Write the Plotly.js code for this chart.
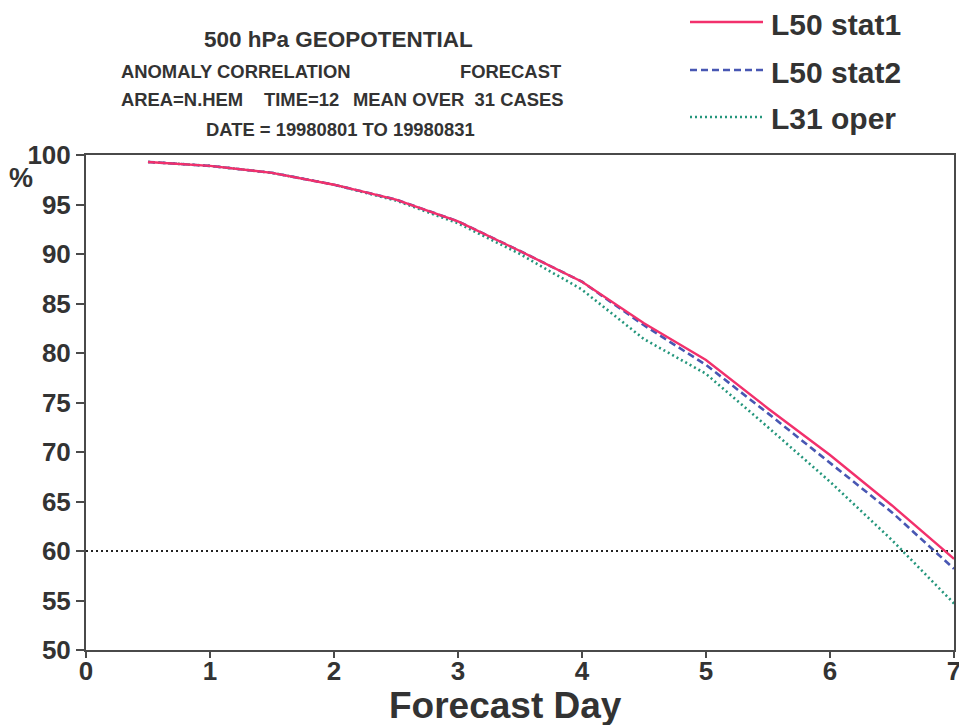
<!DOCTYPE html>
<html><head><meta charset="utf-8">
<script src="https://cdn.plot.ly/plotly-3.0.1.min.js"></script>
<style>html,body{margin:0;padding:0;background:#fff}</style>
</head><body><div id="chart" style="width:959px;height:725px"></div>
<script>
// ---- data ----
const forecastDays = [0.5, 1, 1.5, 2, 2.5, 3, 3.5, 4, 4.5, 5, 5.5, 6, 6.5, 7];
const l50Stat1 = [99.3, 98.9, 98.2, 97.0, 95.5, 93.3, 90.3, 87.2, 83.0, 79.3, 74.4, 69.7, 64.6, 59.2];
const l50Stat2 = [99.3, 98.9, 98.2, 97.0, 95.5, 93.3, 90.3, 87.2, 82.8, 78.8, 73.9, 68.9, 63.9, 58.2];
const l31Oper  = [99.3, 98.9, 98.2, 97.0, 95.4, 93.1, 90.0, 86.4, 81.4, 77.9, 72.5, 67.0, 61.1, 54.7];
const referenceDays = [0, 7];
const referenceLevel = [60, 60];
const seriesNames = ['L50 stat1', 'L50 stat2', 'L31 oper'];
const yTicks = [50, 55, 60, 65, 70, 75, 80, 85, 90, 95, 100];
const xTicks = [0, 1, 2, 3, 4, 5, 6, 7];
const xAxisTitle = 'Forecast Day';
const yAxisTitle = '%';
const headerLines = ['500 hPa GEOPOTENTIAL', 'ANOMALY CORRELATION', 'FORECAST',
  'AREA=N.HEM', 'TIME=12', 'MEAN OVER  31 CASES', 'DATE = 19980801 TO 19980831'];

// ---- styling ----
const W = 959, H = 725;
const M = {l: 86, r: 5, t: 155, b: 75};
const PW = W - M.l - M.r, PH = H - M.t - M.b;
const px = x => (x - M.l) / PW;
const py = y => (H - M.b - y) / PH;
const FONT = 'Liberation Sans, Arial, Helvetica, sans-serif';
const TXT = '#333333';
const styles = [
  {color: '#f2306c', dash: 'solid', width: 2.4},
  {color: '#4857b3', dash: '7px,4px', width: 2.6},
  {color: '#24967c', dash: '2px,3px', width: 2.6}
];
const seriesData = [l50Stat1, l50Stat2, l31Oper];

const traces = [{
  x: referenceDays, y: referenceLevel, mode: 'lines', showlegend: false, hoverinfo: 'skip',
  line: {color: '#222', width: 2, dash: '2px,3px'}
}];
[2, 1, 0].forEach(i => traces.push({
  x: forecastDays, y: seriesData[i], name: seriesNames[i], mode: 'lines',
  line: {color: styles[i].color, width: styles[i].width, dash: styles[i].dash}
}));

const ann = [];
const shapes = [];
function txt(t, x, y, size, xa, ya) {
  ann.push({text: t, xref: 'paper', yref: 'paper', x: px(x), y: py(y), xanchor: xa || 'left',
    yanchor: ya || 'middle', showarrow: false, font: {family: FONT, size: size, color: TXT, weight: 'bold'}});
}
txt(headerLines[0], 338, 39, 22.5, 'center');
txt(headerLines[1], 119, 71, 18.4);
txt(headerLines[2], 458, 71, 18.4);
txt(headerLines[3], 119, 100, 18.4);
txt(headerLines[4], 262, 100, 18.4);
txt(headerLines[5], 351, 100, 18.4);
txt(headerLines[6], 340, 129, 18.4, 'center');
txt(yAxisTitle, 21, 178, 27, 'center');
txt(xAxisTitle, 505, 705, 37, 'center');

const legendY = [22, 70, 117];
seriesNames.forEach((n, i) => {
  shapes.push({type: 'line', xref: 'paper', yref: 'paper', x0: px(690), x1: px(763),
    y0: py(legendY[i]), y1: py(legendY[i]),
    line: {color: styles[i].color, width: styles[i].width, dash: styles[i].dash}});
  txt(n, 769, legendY[i] + 2, 30);
});

const layout = {
  width: W, height: H, margin: M, showlegend: false,
  paper_bgcolor: '#ffffff', plot_bgcolor: '#ffffff',
  font: {family: FONT, color: TXT},
  xaxis: {
    range: [0, 7], tickvals: xTicks, ticktext: xTicks.map(String), ticklabeloverflow: 'allow',
    ticklabelstandoff: -9,
    showgrid: false, zeroline: false, showline: true, linecolor: '#4a4a4a', linewidth: 2,
    mirror: true, ticks: 'outside', ticklen: 6, tickwidth: 2, tickcolor: '#4a4a4a',
    tickfont: {family: FONT, size: 26, color: TXT, weight: 'bold'}
  },
  yaxis: {
    range: [50, 100], tickvals: yTicks, ticktext: yTicks.map(String),
    showgrid: false, zeroline: false, showline: true, linecolor: '#4a4a4a', linewidth: 2,
    mirror: true, ticks: 'outside', ticklen: 8, tickwidth: 2, tickcolor: '#4a4a4a',
    tickfont: {family: FONT, size: 26, color: TXT, weight: 'bold'}
  },
  annotations: ann, shapes: shapes
};
Plotly.newPlot('chart', traces, layout, {displayModeBar: false, staticPlot: true});
</script></body></html>
